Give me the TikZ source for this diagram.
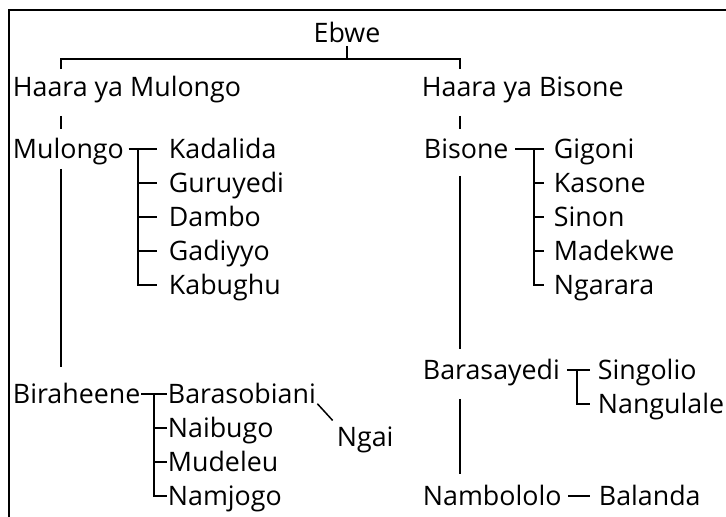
\documentclass[tikz,border=0pt]{standalone}
\usepackage{fontspec}
\setmainfont{Open Sans}
\usepackage{tikz}

\begin{document}
\begin{tikzpicture}[x=1pt,y=-1pt,line width=1.8pt,
  clan/.style={anchor=base west,inner sep=0pt,text height=21pt,text depth=3pt,
    font=\fontsize{26.8}{32}\selectfont}]
\useasboundingbox (0,0) rectangle (726,517);
%%%FRAME
\draw (9,517) -- (9,10) -- (726,10);
%%%NAMES
\node[clan,anchor=base] (ebwe) at (347,42) {Ebwe};
\node[clan] (hml) at (12,96) {Haara ya Mulongo};
\node[clan] (hbs) at (421,96) {Haara ya Bisone};
\node[clan] (mul) at (12,158) {Mulongo};
\node[clan] (kad) at (168,158) {Kadalida};
\node[clan] (gur) at (168,192) {Guruyedi};
\node[clan] (dam) at (168,226) {Dambo};
\node[clan] (gad) at (168,260) {Gadiyyo};
\node[clan] (kab) at (168,294) {Kabughu};
\node[clan] (bis) at (423,158) {Bisone};
\node[clan] (gig) at (553,158) {Gigoni};
\node[clan] (kas) at (553,192) {Kasone};
\node[clan] (sin) at (553,226) {Sinon};
\node[clan] (mad) at (553,260) {Madekwe};
\node[clan] (nga) at (553,294) {Ngarara};
\node[clan] (bir) at (12,403) {Biraheene};
\node[clan] (bso) at (167,403) {Barasobiani};
\node[clan] (nai) at (167,437) {Naibugo};
\node[clan] (mud) at (167,471) {Mudeleu};
\node[clan] (nam) at (167,505) {Namjogo};
\node[clan] (ngai) at (336,446) {Ngai};
\node[clan] (bsy) at (422,379) {Barasayedi};
\node[clan] (sing) at (597,379) {Singolio};
\node[clan] (nang) at (597,413) {Nangulale};
\node[clan] (nbl) at (422,505) {Nambololo};
\node[clan] (bal) at (598,505) {Balanda};
%%%JUNCTIONS
\coordinate (barL) at (61,59);
\coordinate (barR) at (460,59);
\coordinate (mj) at (138,0);
\coordinate (bj) at (534,0);
\coordinate (rj) at (154,0);
\coordinate (sj) at (577,0);
%%%TOP
\draw (ebwe.south) -- (ebwe.south |- barL);
\draw[shorten <=5pt,shorten >=5pt] (barL |- hml.north) -- (barL) -- (barR) -- (barR |- hbs.north);
%%%STEMS
\draw[shorten <=16pt,shorten >=7pt] (barL |- hml.south) -- (barL |- mul.north);
\draw[shorten <=16pt,shorten >=7pt] (barR |- hbs.south) -- (barR |- bis.north);
\draw[shorten <=7pt,shorten >=14pt] (barL |- mul.south) -- (barL |- bir.north);
\draw[shorten <=14pt,shorten >=8pt] (barR |- bis.south) -- (barR |- bsy.north);
\draw[shorten <=16pt,shorten >=9pt] (barR |- bsy.south) -- (barR |- nbl.north);
%%%MULONGO
\draw[shorten <=4pt,shorten >=11pt] (mul.east) -- (kad.west);
\draw[shorten >=11pt] (mj |- kad.west) -- (mj |- kab.west) -- (kab.west);
\foreach \c in {gur,dam,gad}
  \draw[shorten >=11pt] (mj |- \c.west) -- (\c.west);
%%%BISONE
\draw[shorten <=6pt,shorten >=9pt] (bis.east) -- (gig.west);
\draw[shorten >=9pt] (bj |- gig.west) -- (bj |- nga.west) -- (nga.west);
\foreach \c in {kas,sin,mad}
  \draw[shorten >=9pt] (bj |- \c.west) -- (\c.west);
%%%BIRAHEENE
\draw (bir.east) -- (bso.west);
\draw (rj |- bso.west) -- (rj |- nam.west) -- (nam.west);
\foreach \c in {nai,mud}
  \draw (rj |- \c.west) -- (\c.west);
\draw[line width=1.5pt,shorten <=1pt,shorten >=5pt] (bso.base east) -- (ngai.north west);
%%%BARASAYEDI
\draw[shorten <=6pt,shorten >=7pt] (bsy.east) -- (sing.west);
\draw[shorten >=7pt] (sj |- sing.west) -- (sj |- nang.west) -- (nang.west);
\draw[shorten <=6pt,shorten >=8pt] (nbl.east) -- (bal.west);
\end{tikzpicture}
\end{document}
